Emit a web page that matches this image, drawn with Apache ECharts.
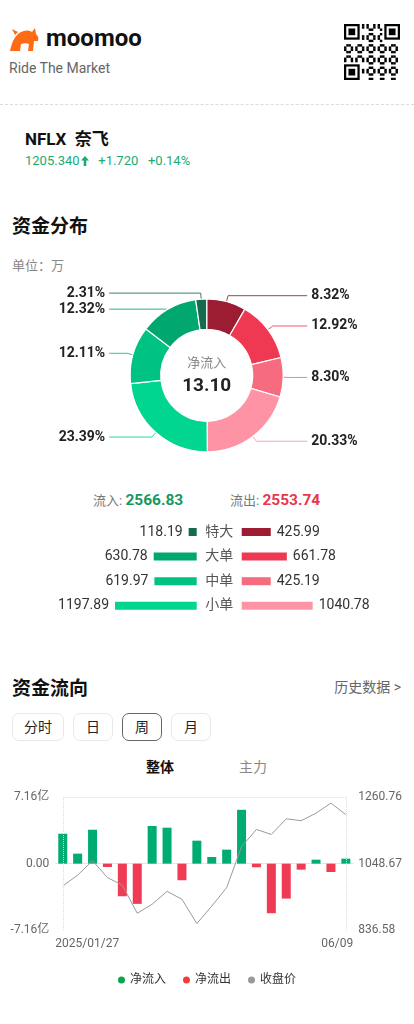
<!DOCTYPE html>
<html><head><meta charset="utf-8">
<script src="https://cdn.jsdelivr.net/npm/echarts@6/dist/echarts.min.js"></script>
<style>
html,body{margin:0;padding:0;background:#fff;}
body{width:414px;height:1024px;position:relative;overflow:hidden;font-family:Roboto,"Noto Sans CJK SC",sans-serif;color:#222;}
.a{position:absolute;white-space:nowrap;}
.btn{position:absolute;top:713px;height:26px;border:1px solid #e9e9e9;border-radius:7px;font-size:14px;line-height:26px;text-align:center;color:#222;box-sizing:content-box;}
.btn.sel{border-color:#666;}
</style></head><body>
<!-- header -->
<svg class="a" style="left:8px;top:27px" width="32" height="25" viewBox="0 0 32 25">
  <path fill="#ff6a14" d="M2 24 C4 15 7 8 13 5 C17 3 21 3 24 5 L27 1 L28 7 C30 9 31 11 30 14 L26 14 L25 24 L20 24 L21 17 C19 16 16 16 13 17 L12 24 Z M7 8 L4 2 L10 5 Z"/>
</svg>
<div class="a" style="left:46px;top:24px;font-size:24px;font-weight:700;color:#111;">moomoo</div>
<div class="a" style="left:9px;top:60px;font-size:14px;color:#666;">Ride The Market</div>
<svg id="qr" class="a" style="left:344px;top:24px" width="56" height="56"></svg>
<div class="a" style="left:0;top:104px;width:414px;border-top:1px dashed #dcdcdc;"></div>

<div class="a" style="left:25px;top:125px;font-size:17px;font-weight:700;color:#111;">NFLX&nbsp; 奈飞</div>
<div class="a" style="left:25px;top:153px;font-size:13px;color:#1aab72;">1205.340<svg width="8" height="10" viewBox="0 0 8 10" style="vertical-align:-1px;margin-left:1px"><path fill="#1aab72" d="M4 0 L8 4.5 L5.3 4.5 L5.3 10 L2.7 10 L2.7 4.5 L0 4.5 Z"/></svg>&nbsp;&nbsp; +1.720&nbsp;&nbsp; +0.14%</div>

<div class="a" style="left:12px;top:211px;font-size:19px;font-weight:700;color:#111;">资金分布</div>
<div class="a" style="left:12px;top:255px;font-size:13px;color:#888;">单位：万</div>

<div id="pie" class="a" style="left:0;top:270px;width:414px;height:200px;"></div>

<div class="a" style="left:93px;top:490px;font-size:13px;color:#777;">流入: <span id="inTotal" style="font-size:15.5px;font-weight:700;color:#15995f;"></span></div>
<div class="a" style="left:230px;top:490px;font-size:13px;color:#777;">流出: <span id="outTotal" style="font-size:15.5px;font-weight:700;color:#e8374f;"></span></div>

<div id="table" class="a" style="left:0;top:517px;width:414px;height:105px;"></div>

<div class="a" style="left:12px;top:673px;font-size:19px;font-weight:700;color:#111;">资金流向</div>
<div class="a" style="right:13px;top:676px;font-size:14px;color:#666;">历史数据 &gt;</div>

<div class="btn" style="left:12px;width:50px;">分时</div>
<div class="btn" style="left:73px;width:38px;">日</div>
<div class="btn sel" style="left:122px;width:38px;">周</div>
<div class="btn" style="left:171px;width:38px;">月</div>

<div class="a" style="left:146px;top:756px;font-size:14px;font-weight:700;color:#111;">整体</div>
<div class="a" style="left:239px;top:756px;font-size:14px;color:#888;">主力</div>

<div id="flow" class="a" style="left:0;top:780px;width:414px;height:244px;"></div>

<script>
// ---------- data ----------
const orderTypes = ['特大', '大单', '中单', '小单'];
const inflow  = [118.19, 630.78, 619.97, 1197.89];   // 万
const outflow = [425.99, 661.78, 425.19, 1040.78];   // 万
const netInflowText = '13.10';
const inColors  = ['#156b4e', '#00a870', '#00c283', '#00d68f'];
const outColors = ['#9c1c32', '#ef3852', '#f66b7d', '#fe93a6'];

const weeks = ['2025/01/27','02/03','02/10','02/17','02/24','03/03','03/10','03/17','03/24','03/31',
               '04/07','04/14','04/21','04/28','05/05','05/12','05/19','05/26','06/02','06/09'];
const netFlow = [3.23, 1.08, 3.66, -0.36, -3.52, -4.34, 4.06, 3.88, -1.79, 2.48,
                 0.72, 1.51, 5.81, -0.39, -5.35, -3.77, -0.65, 0.43, -0.90, 0.54]; // 亿
const closePrice = [977, 1012, 1058, 1004, 980, 890, 919, 960, 935, 857,
                    913, 972, 1103, 1158, 1142, 1192, 1186, 1210, 1242, 1205.34];
const leftAxisRange = [-7.16, 7.16];
const rightAxisRange = [836.58, 1260.76];

// ---------- QR decoration ----------
(function(){
  const svg = document.getElementById('qr'); const n = 25, s = 56 / n; let h = '';
  const finder = (x, y) => { h += `<rect x="${x*s}" y="${y*s}" width="${7*s}" height="${7*s}" fill="#000"/><rect x="${(x+1)*s}" y="${(y+1)*s}" width="${5*s}" height="${5*s}" fill="#fff"/><rect x="${(x+2)*s}" y="${(y+2)*s}" width="${3*s}" height="${3*s}" fill="#000"/>`; };
  for (let y = 0; y < n; y++) for (let x = 0; x < n; x++) {
    const inF = (x < 8 && y < 8) || (x > n-9 && y < 8) || (x < 8 && y > n-9);
    if (inF) continue;
    if (((x * 7 + y * 11 + x * y) % 5) < 2) h += `<rect x="${x*s}" y="${y*s}" width="${s+0.2}" height="${s+0.2}" fill="#000"/>`;
  }
  finder(0,0); finder(n-7,0); finder(0,n-7);
  svg.innerHTML = h;
})();

const sum = a => a.reduce((p, c) => p + c, 0);
document.getElementById('inTotal').textContent = sum(inflow).toFixed(2);
document.getElementById('outTotal').textContent = sum(outflow).toFixed(2);

const FONT = 'Roboto, "Noto Sans CJK SC", sans-serif';

// ---------- pie ----------
const pieData = [];
outflow.forEach((v, i) => pieData.push({ name: orderTypes[i] + '流出', value: v, itemStyle: { color: outColors[i] } }));
for (let i = inflow.length - 1; i >= 0; i--) pieData.push({ name: orderTypes[i] + '流入', value: inflow[i], itemStyle: { color: inColors[i] } });

const pie = echarts.init(document.getElementById('pie'), null, { renderer: 'canvas' });
pie.setOption({
  animation: false,
  textStyle: { fontFamily: FONT },
  series: [{
    type: 'pie', startAngle: 90, clockwise: true,
    center: [206.7, 105.4], radius: [46, 76.5],
    itemStyle: { borderColor: '#fff', borderWidth: 1.2 },
    label: { formatter: p => p.percent.toFixed(2) + '%', fontSize: 14, fontWeight: 'bold', color: '#222', alignTo: 'labelLine',
             distanceToLabelLine: 4, lineHeight: 12, fontFamily: FONT },
    labelLine: { length: 6, length2: 18, lineStyle: { width: 1, opacity: 0.85 } },
    emphasis: { disabled: true },
    data: pieData
  }],
  graphic: [
    { type: 'text', x: 206.7, y: 94, style: { text: '净流入', fill: '#888', fontSize: 13, align: 'center', verticalAlign: 'middle', fontFamily: FONT } },
    { type: 'text', x: 206.7, y: 116, style: { text: netInflowText, fill: '#222', fontSize: 19, fontWeight: 'bold', align: 'center', verticalAlign: 'middle', fontFamily: FONT } }
  ]
});

// ---------- table bars ----------
const maxV = Math.max(...inflow, ...outflow);
const table = echarts.init(document.getElementById('table'));
table.setOption({
  animation: false,
  textStyle: { fontFamily: FONT },
  grid: [{ left: 115, width: 81.7, top: 2.7, height: 98.4 }, { left: 241.7, width: 81.7, top: 2.7, height: 98.4 }],
  xAxis: [
    { gridIndex: 0, type: 'value', min: 0, max: maxV, inverse: true, show: false },
    { gridIndex: 1, type: 'value', min: 0, max: maxV, show: false }
  ],
  yAxis: [
    { gridIndex: 0, type: 'category', data: orderTypes, inverse: true, show: false },
    { gridIndex: 1, type: 'category', data: orderTypes, inverse: true, axisLine: { show: false }, axisTick: { show: false },
      axisLabel: { margin: 22.5, align: 'center', fontSize: 14, color: '#555', fontFamily: FONT } }
  ],
  series: [
    { type: 'bar', xAxisIndex: 0, yAxisIndex: 0, barWidth: 8,
      data: inflow.map((v, i) => ({ value: v, itemStyle: { color: inColors[i] } })),
      label: { show: true, position: 'left', distance: 6, fontSize: 14, color: '#333', fontFamily: FONT } },
    { type: 'bar', xAxisIndex: 1, yAxisIndex: 1, barWidth: 8,
      data: outflow.map((v, i) => ({ value: v, itemStyle: { color: outColors[i] } })),
      label: { show: true, position: 'right', distance: 6, fontSize: 14, color: '#333', fontFamily: FONT } }
  ]
});

// ---------- flow chart ----------
const GREEN = '#00ac73', RED = '#f03b55';
const flow = echarts.init(document.getElementById('flow'));
const labelAxis = (idx, align) => ({
  type: 'category', data: weeks, boundaryGap: false, position: 'bottom',
  axisLine: { show: false }, axisTick: { show: false }, splitLine: { show: false },
  axisLabel: { interval: (i) => i === idx, align: align, margin: 8, fontSize: 12, color: '#666', fontFamily: FONT }
});
flow.setOption({
  animation: false,
  textStyle: { fontFamily: FONT },
  grid: { left: 55.3, right: 60.7, top: 17.3, height: 132.7 },
  legend: {
    top: 189, left: 'center', icon: 'circle', itemWidth: 7, itemHeight: 7, itemGap: 17,
    textStyle: { fontSize: 12, color: '#333', fontFamily: FONT },
    data: [
      { name: '净流入', itemStyle: { color: '#0aa64a' } },
      { name: '净流出', itemStyle: { color: '#f03c3c' } },
      { name: '收盘价', itemStyle: { color: '#999' } }
    ]
  },
  xAxis: [
    { type: 'category', data: weeks, boundaryGap: true, position: 'bottom',
      axisLine: { lineStyle: { color: '#e6e6e6' } }, axisTick: { show: false }, axisLabel: { show: false } },
    labelAxis(0, 'left'),
    labelAxis(weeks.length - 1, 'right')
  ],
  yAxis: [
    { type: 'value', min: leftAxisRange[0], max: leftAxisRange[1], interval: leftAxisRange[1],
      axisLine: { show: false }, axisTick: { show: false }, splitLine: { show: false },
      axisLabel: { margin: 6, fontSize: 12, color: '#666', fontFamily: FONT,
        formatter: v => Math.abs(v) < 1e-9 ? '0.00' : v.toFixed(2) + '亿' } },
    { type: 'value', min: rightAxisRange[0], max: rightAxisRange[1], interval: (rightAxisRange[1] - rightAxisRange[0]) / 2,
      position: 'right',
      axisLine: { show: false }, axisTick: { show: false }, splitLine: { show: false },
      axisLabel: { margin: 5, fontSize: 12, color: '#666', fontFamily: FONT, formatter: v => v.toFixed(2) } }
  ],
  series: [
    { name: '净流入', type: 'bar', stack: 'f', barWidth: 9, itemStyle: { color: GREEN },
      data: netFlow.map(v => v > 0 ? v : '-'),
      markLine: { silent: true, symbol: 'none', label: { show: false },
        lineStyle: { type: 'dotted', color: '#dcdcdc', width: 1 },
        data: [ { xAxis: weeks[0] }, { xAxis: weeks[weeks.length - 1] },
                [ { coord: [weeks[0], leftAxisRange[1]] }, { coord: [weeks[weeks.length - 1], leftAxisRange[1]] } ] ] } },
    { name: '净流出', type: 'bar', stack: 'f', barWidth: 9, itemStyle: { color: RED },
      data: netFlow.map(v => v < 0 ? v : '-') },
    { name: '收盘价', type: 'line', yAxisIndex: 1, symbol: 'none', smooth: false,
      lineStyle: { color: '#9a9a9a', width: 1 }, itemStyle: { color: '#9a9a9a' },
      data: closePrice }
  ]
});
</script>
</body></html>
